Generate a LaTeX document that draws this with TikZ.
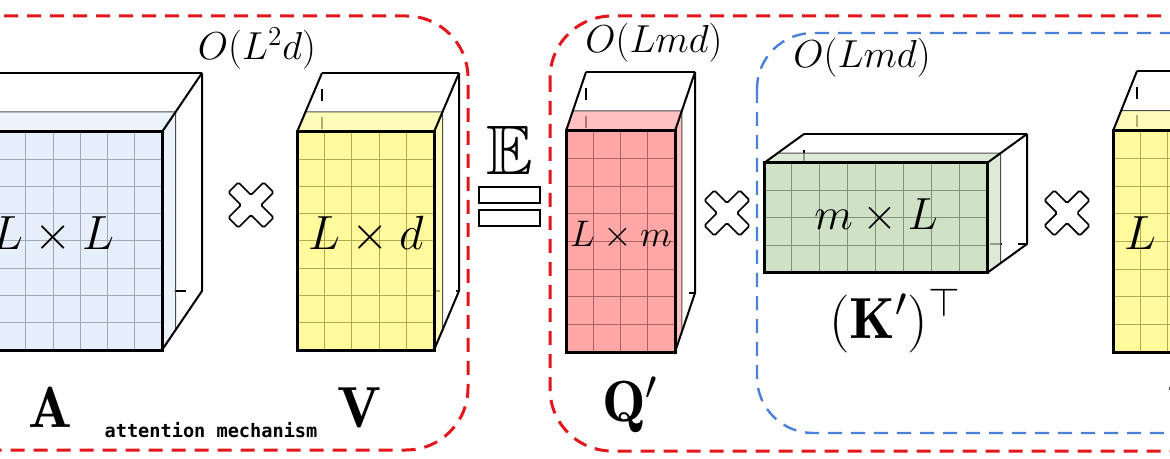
\documentclass[tikz,border=0pt]{standalone}
\usepackage{fix-cm}
\usepackage{amssymb}
\usepackage{fontspec}
\newfontfamily\amono{DejaVu Sans Mono}
\usetikzlibrary{calc}

\definecolor{Afill}{HTML}{E6EEF9}
\definecolor{Agrid}{HTML}{9DAAB8}
\definecolor{Vfill}{HTML}{FFFB9C}
\definecolor{Vgrid}{HTML}{B3A851}
\definecolor{Qfill}{HTML}{FFA6A6}
\definecolor{Qgrid}{HTML}{A86464}
\definecolor{Kfill}{HTML}{CFE2C5}
\definecolor{Kgrid}{HTML}{7E977A}
\definecolor{redbox}{HTML}{E3161B}
\definecolor{bluebox}{HTML}{4A80D6}

\tikzset{
  hidden/.style={draw=black, line width=0.7pt, dash pattern=on 6pt off 8pt, dash phase=6pt},
  slab/.style={draw=black!70, line width=0.5pt, fill opacity=0.7},
  gridline/.style={line width=0.5pt},
  frontface/.style={draw=black, line width=1.5pt},
  outeredge/.style={draw=black, line width=1pt, line join=round},
  backtop/.style={draw=black, line width=1.4pt},
  crossmark/.style={draw=black, fill=white, line width=0.8pt, rounded corners=0.8pt},
  eqbar/.style={draw=black, fill=white, line width=0.8pt},
  redframe/.style={draw=redbox, line width=1.5pt, dash pattern=on 7pt off 4.5pt, rounded corners=31pt},
  blueframe/.style={draw=bluebox, line width=1.2pt, dash pattern=on 7pt off 4.5pt, rounded corners=28pt},
  cplx/.style={font=\fontsize{19.5}{23}\selectfont, inner sep=0pt, anchor=base},
  dimlab/.style={inner sep=0pt, anchor=base},
  boldlab/.style={font=\fontsize{29}{34}\selectfont, inner sep=0pt, anchor=base},
}

% #1 x, #2 y, #3 w, #4 h, #5 dx, #6 dy, #7 cols, #8 rows, #9 colour prefix
\newcommand\matbox[9]{%
  \pgfmathsetmacro\mxr{(#1)+(#3)}%
  \pgfmathsetmacro\myb{(#2)+(#4)}%
  \pgfmathsetmacro\mbx{(#1)+(#5)}%
  \pgfmathsetmacro\mby{(#2)+(#6)}%
  \pgfmathsetmacro\mbxr{(#1)+(#3)+(#5)}%
  \pgfmathsetmacro\mbyb{(#2)+(#4)+(#6)}%
  \pgfmathsetmacro\msx{0.34*(#5)}%
  \pgfmathsetmacro\msy{0.34*(#6)}%
  \pgfmathsetmacro\mcw{(#3)/(#7)}%
  \pgfmathsetmacro\mrh{(#4)/(#8)}%
  \pgfmathtruncatemacro\mnc{(#7)-1}%
  \pgfmathtruncatemacro\mnr{(#8)-1}%
  \draw[hidden] (\mbx,\mby) -- (\mbx,\mbyb) -- (\mbxr,\mbyb);
  \filldraw[slab, fill=#9fill] (#1,#2) -- (\mxr,#2) -- ({\mxr+\msx},{(#2)+\msy}) -- ({(#1)+\msx},{(#2)+\msy}) -- cycle;
  \filldraw[slab, fill=#9fill] (\mxr,#2) -- ({\mxr+\msx},{(#2)+\msy}) -- ({\mxr+\msx},{\myb+\msy}) -- (\mxr,\myb) -- cycle;
  \fill[#9fill] (#1,#2) rectangle (\mxr,\myb);
  \foreach \i in {1,...,\mnc}{\draw[gridline, draw=#9grid] ({(#1)+\i*\mcw},#2) -- ({(#1)+\i*\mcw},\myb);}
  \foreach \j in {1,...,\mnr}{\draw[gridline, draw=#9grid] (#1,{(#2)+\j*\mrh}) -- (\mxr,{(#2)+\j*\mrh});}
  \draw[frontface] (#1,#2) rectangle (\mxr,\myb);
  \draw[outeredge] (#1,#2) -- (\mbx,\mby);
  \draw[backtop] (\mbx,\mby) -- (\mbxr,\mby);
  \draw[outeredge] (\mbxr,\mby) -- (\mxr,#2);
  \draw[outeredge] (\mbxr,\mby) -- (\mbxr,\mbyb) -- (\mxr,\myb);
}

\newcommand\crossat[2]{%
  \begin{scope}[shift={(#1,#2)}, rotate=45]
    \draw[crossmark] (7,7) -- (25,7) -- (25,-7) -- (7,-7) -- (7,-25) -- (-7,-25) -- (-7,-7)
      -- (-25,-7) -- (-25,7) -- (-7,7) -- (-7,25) -- (7,25) -- cycle;
  \end{scope}%
}

\begin{document}
\begin{tikzpicture}[x=0.5pt, y=-0.5pt]
\useasboundingbox (0,0) rectangle (1170,459);
\clip (0,0) rectangle (1170,459);
\fill[white] (0,0) rectangle (1170,459);

% frames
\draw[redframe] (-150,16) rectangle (468,450);
\draw[redframe] (550,16) rectangle (1400,451);
\draw[blueframe] (757,33) rectangle (1400,433);

% matrices
\matbox{-56}{132}{218}{218}{40}{-59}{8}{8}{A}
\matbox{297}{132}{137}{218}{25}{-59}{5}{8}{V}
\matbox{566}{131}{109}{221}{20}{-59}{4}{8}{Q}
\matbox{764}{163}{223}{110}{40}{-29}{8}{4}{K}
\matbox{1113}{131}{137}{221}{24}{-60}{5}{8}{V}

% multiplication marks
\crossat{251}{205}
\crossat{727}{213}
\crossat{1067}{213}

% expectation equals
\node[inner sep=0pt, anchor=base, font=\fontsize{35}{40}\selectfont] (E) at (510,175) {$\mathbb{E}$};
\draw[eqbar] (479,187) rectangle (540,203);
\draw[eqbar] (479,210) rectangle (540,226);

% complexity labels
\node[cplx] (cA) at (257,60) {$O(L^2d)$};
\node[cplx] (cQ) at (654,53) {$O(Lmd)$};
\node[cplx] (cK) at (862,68) {$O(Lmd)$};

% dimension labels
\node[dimlab, font=\fontsize{24}{28}\selectfont] (dA) at (53,250) {$L\times L$};
\node[dimlab, font=\fontsize{24}{28}\selectfont] (dV) at (366,250) {$L\times d$};
\node[dimlab, font=\fontsize{18.5}{22}\selectfont] (dQ) at (621,247) {$L\times m$};
\node[dimlab, font=\fontsize{22.5}{26}\selectfont] (dK) at (876,230) {$m\times L$};
\node[dimlab, font=\fontsize{24}{28}\selectfont] (dV2) at (1182,250) {$L\times d$};

% matrix names
\node[boldlab] (nA) at (50,427) {$\mathbf{A}$};
\node[boldlab] (nV) at (359,427) {$\mathbf{V}$};
\node[boldlab] (nQ) at (630,421) {$\mathbf{Q}'$};
\node[boldlab] (nK) at (895,338) {$(\mathbf{K}')^\top$};
\node[boldlab] (nV2) at (1190,427) {$\mathbf{V}$};

\node[inner sep=0pt, anchor=base, font=\amono\bfseries\fontsize{9.3}{11}\selectfont] (att) at (211,437) {attention mechanism};
\end{tikzpicture}
\end{document}
